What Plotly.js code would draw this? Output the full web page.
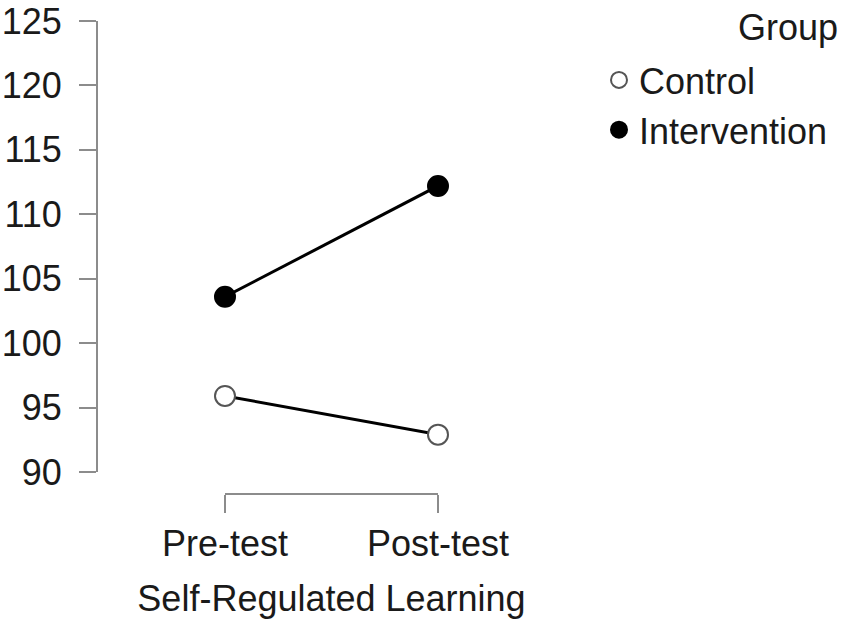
<!DOCTYPE html>
<html>
<head>
<meta charset="utf-8">
<script src="https://cdn.plot.ly/plotly-3.0.1.min.js"></script>
<style>html,body{margin:0;padding:0;background:#fff;}#chart{width:851px;height:632px;}</style>
</head>
<body>
<div id="chart"></div>
<script>
const categories = ["Pre-test", "Post-test"];
const controlValues = [95.9, 92.9];
const interventionValues = [103.6, 112.2];
const yTickValues = [90, 95, 100, 105, 110, 115, 120, 125];
const groupNames = ["Control", "Intervention"];
const legendTitle = "Group";

const FONT = "Liberation Sans, Arial, sans-serif";
const FS = 36;
const TXT = "#1a1a1a";
const AX = "#8c8c8c";

const W = 851, H = 632;
const L = 97, R = 20, T = 21, B = 138;
const pw = W - L - R, ph = H - T - B;

const traces = [
  {x: categories, y: controlValues, mode: "lines", line: {color: "#000", width: 3}, showlegend: false, hoverinfo: "skip", cliponaxis: false},
  {x: categories, y: interventionValues, mode: "lines", line: {color: "#000", width: 3}, showlegend: false, hoverinfo: "skip", cliponaxis: false},
  {x: categories, y: controlValues, mode: "markers", name: groupNames[0], cliponaxis: false,
   marker: {size: 20, color: "#fff", line: {color: "#555", width: 2}}},
  {x: categories, y: interventionValues, mode: "markers", name: groupNames[1], cliponaxis: false,
   marker: {size: 20, color: "#000", line: {color: "#000", width: 2}}}
];

const layout = {
  width: W, height: H,
  margin: {l: L, r: R, t: T, b: B, pad: 0},
  paper_bgcolor: "#fff", plot_bgcolor: "#fff",
  font: {family: FONT, size: FS, color: TXT},
  showlegend: true,
  xaxis: {
    type: "category",
    domain: [(225 - L) / pw, (438 - L) / pw],
    range: [0, 1],
    anchor: "free", position: 0,
    showline: true, linecolor: AX, linewidth: 2,
    ticks: "outside", ticklen: 18, tickwidth: 2, tickcolor: AX,
    showgrid: false, zeroline: false,
    tickfont: {family: FONT, size: FS, color: TXT},
    title: {text: "Self-Regulated Learning", font: {family: FONT, size: FS, color: TXT}, standoff: 22},
    fixedrange: true
  },
  yaxis: {
    domain: [(494 - 472) / ph, 1],
    range: [90, 125],
    anchor: "free", position: 0,
    tickvals: yTickValues,
    ticktext: yTickValues.map(String),
    showline: true, linecolor: AX, linewidth: 2,
    ticks: "outside", ticklen: 17, tickwidth: 2, tickcolor: AX,
    showgrid: false, zeroline: false,
    tickfont: {family: FONT, size: FS, color: TXT},
    ticklabelstandoff: 10,
    fixedrange: true
  },
  legend: {
    x: (833 - L) / pw, xanchor: "right",
    y: (H - B - 50) / ph, yanchor: "top",
    bgcolor: "rgba(0,0,0,0)",
    font: {family: FONT, size: FS, color: TXT},
    itemwidth: 30,
    tracegroupgap: 0
  },
  annotations: [{
    text: legendTitle, xref: "paper", yref: "paper",
    x: (840 - L) / pw, xanchor: "right",
    y: (H - B - 28) / ph, yanchor: "middle",
    showarrow: false, font: {family: FONT, size: FS, color: TXT}
  }]
};

Plotly.newPlot("chart", traces, layout, {displayModeBar: false, staticPlot: true});
</script>
</body>
</html>
